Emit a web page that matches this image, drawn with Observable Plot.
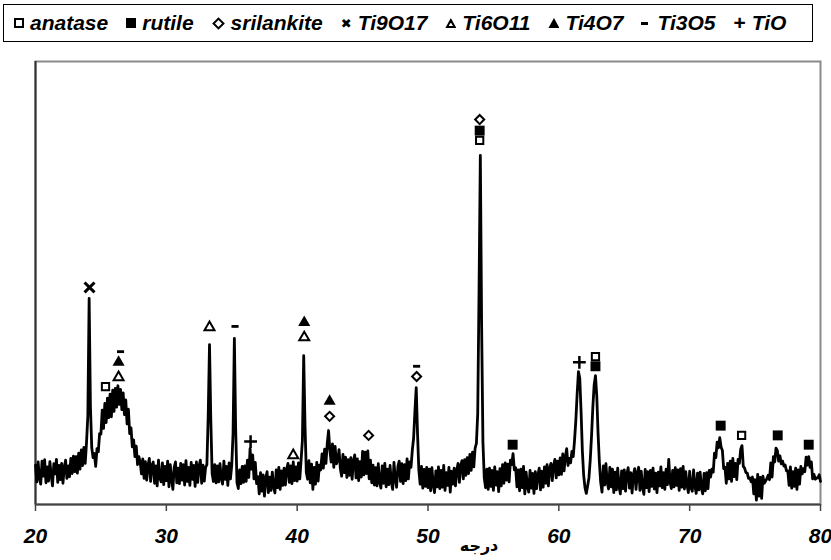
<!DOCTYPE html>
<html><head><meta charset="utf-8">
<script src="https://cdn.jsdelivr.net/npm/d3@7"></script>
<script src="https://cdn.jsdelivr.net/npm/@observablehq/plot@0.6"></script>
<style>
body{margin:0;background:#fff;width:831px;height:560px;position:relative;overflow:hidden;font-family:"Liberation Sans",Arial,sans-serif;}
#legend{position:absolute;left:3px;top:4px;width:810px;height:38px;box-sizing:border-box;border:1.5px solid #000;display:flex;align-items:center;padding-left:10px;font-weight:bold;font-style:italic;font-size:21px;color:#000;}
.item{display:flex;align-items:center;margin-right:18px;white-space:nowrap;}
.sym{display:inline-block;margin-right:6px;flex:none;position:relative;}
.osq{width:6px;height:6px;border:2px solid #000;}
.fsq{width:10px;height:10px;background:#000;}
.dia{width:5px;height:5px;border:2px solid #000;transform:rotate(45deg);margin-left:2px;margin-right:8px;}
.times{font-style:normal;font-size:13px;font-family:"DejaVu Sans";}
.tri{width:11px;height:10px;background:#000;clip-path:polygon(50% 0,100% 100%,0 100%);}
.tri.open::after{content:"";position:absolute;left:3.3px;top:4.5px;width:4.4px;height:3.6px;background:#fff;clip-path:polygon(50% 0,100% 100%,0 100%);}
.dash{width:7px;height:3px;background:#000;margin-right:9px;}
.plus{font-style:normal;font-size:21px;font-weight:bold;}
#chart{position:absolute;left:0;top:45px;z-index:1;}
#xlabel{position:absolute;left:479px;top:546px;transform:translate(-50%,-50%);font-family:"DejaVu Sans";font-weight:bold;font-size:16px;z-index:3;line-height:1.3;}
</style></head><body>
<div id="legend"></div><div id="chart"></div><div id="xlabel" dir="rtl">درجه</div>
<script>
// XRD pattern: intensity (arbitrary units) from 20.0 to 80.0 deg, step 0.1
const angleStart = 20;
const angleStep = 0.1;
const intensity = [
 8.9, 5.1, 9.6, 6.0, 4.6, 9.8, 6.4, 10.1, 4.9, 8.5,
 5.3, 9.7, 6.6, 4.2, 9.2, 6.9, 10.2, 5.0, 8.8, 5.6,
 9.3, 4.8, 8.4, 10.0, 5.9, 8.7, 6.3, 10.4, 7.0, 10.9,
 7.4, 10.8, 7.1, 11.6, 8.0, 12.3, 8.8, 12.9, 9.3, 14.0,
 20.0, 46.5, 22.0, 12.8, 10.6, 11.5, 8.6, 12.6, 11.9, 16.0,
 15.9, 21.3, 17.2, 22.8, 18.5, 24.0, 19.6, 24.9, 19.8, 25.8,
 21.0, 26.2, 22.0, 26.8, 22.6, 26.0, 21.4, 25.2, 20.3, 23.6,
 18.2, 21.5, 16.0, 17.3, 13.0, 14.6, 10.8, 13.2, 9.0, 10.8,
 9.6, 6.9, 10.3, 5.9, 9.7, 5.5, 8.8, 10.4, 5.2, 8.9,
 9.6, 4.8, 8.7, 4.2, 10.0, 6.0, 5.1, 9.4, 4.5, 8.6,
 5.4, 9.8, 4.0, 9.0, 5.7, 3.4, 8.4, 9.6, 4.9, 8.2,
 4.7, 9.3, 5.5, 9.0, 4.4, 9.9, 5.2, 8.4, 4.3, 9.5,
 5.7, 8.8, 4.1, 9.6, 5.0, 8.7, 10.0, 4.8, 8.9, 5.3,
 8.4, 9.0, 20.0, 36.1, 19.0, 7.0, 5.2, 9.0, 4.9, 8.7,
 5.1, 9.2, 5.9, 4.6, 9.8, 5.7, 8.6, 4.3, 9.4, 5.8,
 8.9, 16.0, 37.5, 17.0, 5.0, 3.6, 7.8, 4.7, 8.6, 5.0,
 8.7, 5.2, 10.0, 6.1, 12.6, 8.0, 11.2, 5.8, 9.5, 4.7,
 6.3, 2.4, 7.2, 3.0, 6.7, 1.9, 6.0, 7.4, 2.7, 6.2,
 3.2, 7.3, 4.0, 2.6, 7.8, 3.8, 8.4, 3.4, 7.6, 4.3,
 8.2, 4.4, 8.0, 9.3, 5.0, 8.7, 4.7, 9.6, 5.4, 8.5,
 5.3, 9.4, 5.8, 10.0, 14.5, 33.6, 17.8, 7.2, 5.7, 9.9,
 4.9, 9.1, 3.4, 8.4, 4.6, 9.5, 5.3, 8.9, 7.8, 11.4,
 8.2, 12.5, 9.3, 13.8, 16.7, 12.2, 9.6, 13.7, 8.4, 13.1,
 9.2, 10.0, 12.4, 8.1, 6.4, 11.3, 7.2, 10.7, 6.1, 10.1,
 6.6, 10.6, 5.7, 9.8, 11.2, 6.0, 10.3, 5.4, 9.7, 6.2,
 12.0, 6.7, 11.8, 7.0, 12.1, 5.8, 10.0, 4.9, 8.9, 4.4,
 8.3, 4.2, 9.2, 5.1, 3.7, 8.7, 4.8, 9.3, 4.0, 8.0,
 4.5, 8.8, 5.0, 3.4, 9.5, 5.7, 3.9, 8.6, 9.8, 5.2,
 9.2, 4.7, 9.0, 5.4, 10.3, 5.8, 9.6, 8.4, 12.2, 15.0,
 21.0, 26.4, 16.0, 7.8, 4.6, 8.6, 3.7, 7.9, 4.1, 8.4,
 3.8, 8.0, 3.1, 8.3, 4.4, 2.7, 7.6, 4.0, 8.5, 3.6,
 7.7, 3.9, 8.8, 3.2, 7.2, 4.3, 8.4, 2.8, 7.5, 4.6,
 8.2, 4.2, 7.8, 9.3, 5.0, 8.7, 9.9, 5.8, 10.1, 6.6,
 10.6, 7.0, 11.3, 7.7, 11.8, 8.5, 12.7, 13.8, 20.5, 48.0,
 78.8, 40.0, 14.0, 6.0, 3.8, 8.0, 3.4, 8.2, 4.1, 7.7,
 3.2, 8.5, 4.4, 7.4, 2.9, 8.1, 4.2, 9.0, 4.8, 9.4,
 5.5, 9.1, 5.1, 10.0, 9.0, 11.5, 7.8, 8.3, 4.0, 7.8,
 3.1, 8.0, 3.8, 8.6, 2.4, 7.3, 4.1, 2.8, 7.7, 3.7,
 7.0, 2.5, 7.4, 3.6, 6.7, 8.2, 3.3, 7.5, 3.9, 8.5,
 4.8, 9.0, 4.2, 8.1, 9.3, 5.4, 8.7, 10.2, 6.0, 9.8,
 6.7, 10.5, 6.8, 11.4, 7.6, 10.9, 12.6, 8.8, 10.4, 9.4,
 12.0, 10.8, 14.5, 19.0, 25.0, 30.0, 28.5, 21.0, 12.0, 6.5,
 3.8, 2.5, 4.2, 6.0, 10.0, 15.5, 22.0, 27.0, 29.1, 24.5,
 16.0, 9.5, 5.0, 2.8, 8.7, 4.4, 9.2, 4.9, 3.5, 8.4,
 4.0, 8.0, 2.7, 7.3, 3.3, 8.2, 4.1, 2.4, 7.6, 3.6,
 7.8, 3.0, 7.0, 8.3, 3.7, 7.2, 2.6, 6.7, 8.1, 3.4,
 7.1, 8.4, 3.2, 7.5, 3.9, 2.3, 7.9, 3.8, 7.4, 2.9,
 7.7, 4.1, 8.2, 3.5, 7.1, 2.7, 7.3, 4.2, 8.5, 3.8,
 7.2, 3.4, 8.0, 4.5, 10.2, 5.1, 3.6, 7.7, 4.0, 8.3,
 4.3, 7.8, 3.2, 8.1, 3.9, 8.6, 3.5, 7.4, 4.4, 2.7,
 7.5, 3.8, 3.0, 7.8, 4.2, 2.5, 7.1, 3.3, 7.3, 3.7,
 2.4, 7.0, 3.1, 7.2, 3.6, 7.7, 6.2, 8.0, 7.3, 11.6,
 10.6, 14.1, 12.8, 15.1, 13.0, 12.2, 8.1, 8.4, 4.8, 9.3,
 5.8, 9.8, 5.2, 10.4, 6.3, 9.3, 5.6, 10.2, 9.3, 12.5,
 13.3, 8.6, 8.2, 7.2, 7.1, 5.9, 6.0, 5.1, 6.2, 2.4,
 5.6, 1.0, 6.8, 1.9, 6.1, 1.4, 6.4, 4.8, 5.3, 5.8,
 6.6, 5.6, 9.4, 6.2, 10.8, 9.6, 12.7, 12.2, 9.8, 11.0,
 9.2, 9.8, 8.7, 8.9, 7.6, 7.6, 4.3, 8.5, 3.7, 7.4,
 4.1, 8.2, 3.4, 7.8, 4.6, 8.6, 6.9, 8.1, 7.4, 10.7,
 8.9, 10.8, 8.4, 9.6, 5.8, 6.8, 5.7, 6.0, 6.0, 6.7,
 5.2
];

// Phase markers: angle (deg) and marker height (same units as intensity)
const anataseAngles = [25.35, 53.95, 62.8, 73.97];
const anataseHeights = [26.6, 82.2, 33.4, 15.6];
const rutileAngles = [53.95, 56.47, 62.8, 72.37, 76.73, 79.1];
const rutileHeights = [84.4, 13.5, 31.2, 17.8, 15.6, 13.5];
const srilankiteAngles = [42.48, 45.46, 49.13, 53.95];
const srilankiteHeights = [19.9, 15.6, 28.9, 86.9];
const ti9o17Angles = [24.13];
const ti9o17Heights = [49.0];
const ti6o11Angles = [26.35, 33.3, 39.7, 40.54];
const ti6o11Heights = [28.7, 40.0, 11.1, 37.7];
const ti4o7Angles = [26.35, 40.54, 42.48];
const ti4o7Heights = [32.1, 41.1, 23.3];
const ti3o5Angles = [26.5, 35.25, 49.13];
const ti3o5Heights = [34.5, 40.2, 31.2];
const tioAngles = [36.44, 61.57];
const tioHeights = [14.2, 32.1];

const xTicks = [20, 30, 40, 50, 60, 70, 80];
const legendLabels = ["anatase", "rutile", "srilankite", "Ti9O17", "Ti6O11", "Ti4O7", "Ti3O5", "TiO"];
const legendSymbols = ["osq", "fsq", "dia", "times", "otri", "ftri", "dash", "plus"];

// legend
const legend = document.getElementById("legend");
legendLabels.forEach((lab, i) => {
  const it = document.createElement("span"); it.className = "item";
  const s = document.createElement("span");
  const k = legendSymbols[i];
  if (k === "otri") s.className = "sym tri open";
  else if (k === "ftri") s.className = "sym tri";
  else s.className = "sym " + k;
  if (k === "times") s.textContent = "\u2716";
  if (k === "plus") s.textContent = "+";
  it.appendChild(s);
  const t = document.createElement("span"); t.textContent = lab; it.appendChild(t);
  legend.appendChild(it);
});

const pattern = intensity.map((v, i) => ({angle: angleStart + i * angleStep, v}));
const pts = (angles, heights) => angles.map((a, i) => ({a, h: heights[i]}));
const dashSymbol = {draw(ctx, size) {
  const w = Math.sqrt(size) * 2, h = w * 0.4;
  ctx.moveTo(-w/2, -h/2); ctx.lineTo(w/2, -h/2); ctx.lineTo(w/2, h/2); ctx.lineTo(-w/2, h/2); ctx.closePath();
}};

const chart = Plot.plot({
  width: 831, height: 515,
  marginLeft: 35, marginRight: 11, marginTop: 16, marginBottom: 56,
  x: {domain: [20, 80]},
  y: {domain: [0, 100], axis: null},
  style: {fontFamily: "'Liberation Sans', Arial, sans-serif", background: "#fff", color: "#000"},
  marks: [
    Plot.frame({stroke: "#8a8a8a", strokeWidth: 2}),
    Plot.ruleX([20], {stroke: "#333", strokeWidth: 2}),
    Plot.ruleY([0], {stroke: "#444", strokeWidth: 2}),
    Plot.axisX({ticks: xTicks, tickSize: 7, tickPadding: 17, stroke: "#444", strokeWidth: 1.5,
      fontSize: 21, fontWeight: "bold", fontStyle: "italic", label: null, tickFormat: d => String(d)}),
    Plot.line(pattern, {x: "angle", y: "v", stroke: "#000", strokeWidth: 2.8, strokeLinejoin: "round"}),
    Plot.dot(pts(rutileAngles, rutileHeights), {x: "a", y: "h", symbol: "square", r: 5.6, fill: "#000", stroke: "none"}),
    Plot.dot(pts(anataseAngles, anataseHeights), {x: "a", y: "h", symbol: "square", r: 4.1, fill: "#fff", stroke: "#000", strokeWidth: 2}),
    Plot.dot(pts(srilankiteAngles, srilankiteHeights), {x: "a", y: "h", symbol: "square", rotate: 45, r: 3.6, fill: "#fff", stroke: "#000", strokeWidth: 2}),
    Plot.dot(pts(ti9o17Angles, ti9o17Heights), {x: "a", y: "h", symbol: "times", r: 4.6, fill: "none", stroke: "#000", strokeWidth: 3}),
    Plot.dot(pts(ti6o11Angles, ti6o11Heights), {x: "a", y: "h", symbol: "triangle", r: 3.7, fill: "#fff", stroke: "#000", strokeWidth: 2}),
    Plot.dot(pts(ti4o7Angles, ti4o7Heights), {x: "a", y: "h", symbol: "triangle", r: 4.5, fill: "#000", stroke: "none"}),
    Plot.dot(pts(ti3o5Angles, ti3o5Heights), {x: "a", y: "h", symbol: dashSymbol, r: 2, fill: "#000", stroke: "none"}),
    Plot.dot(pts(tioAngles, tioHeights), {x: "a", y: "h", symbol: "plus", r: 4.2, fill: "none", stroke: "#000", strokeWidth: 2.5})
  ]
});
document.getElementById("chart").appendChild(chart);
</script></body></html>
